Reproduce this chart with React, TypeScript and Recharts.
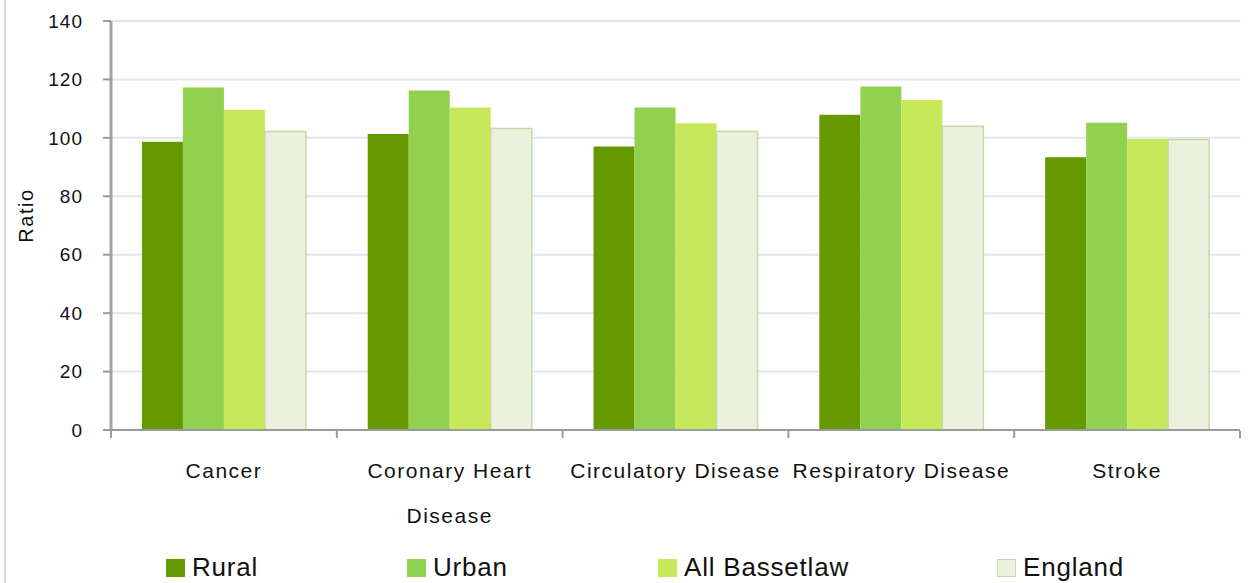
import React from "react";
import { BarChart, Bar, XAxis, YAxis, CartesianGrid, Legend } from "recharts";

const categories = ["Cancer", "Coronary Heart Disease", "Circulatory Disease", "Respiratory Disease", "Stroke"];
const tickLines = [["Cancer"], ["Coronary Heart", "Disease"], ["Circulatory Disease"], ["Respiratory Disease"], ["Stroke"]];
const rural = [98.7, 101.3, 97.0, 107.9, 93.4];
const urban = [117.2, 116.2, 110.4, 117.6, 105.2];
const allBassetlaw = [109.6, 110.4, 105.0, 113.0, 99.6];
const england = [102.2, 103.2, 102.2, 104.0, 99.4];
const yTicks = [0, 20, 40, 60, 80, 100, 120, 140];

const series = [
  { key: "rural", name: "Rural", fill: "#669900", stroke: "#669900" },
  { key: "urban", name: "Urban", fill: "#92D050", stroke: "#92D050" },
  { key: "all", name: "All Bassetlaw", fill: "#C6E85A", stroke: "#C6E85A" },
  { key: "england", name: "England", fill: "#EBF1DE", stroke: "#C6DAA6" },
];

const data = categories.map((c, i) => ({
  name: c,
  rural: rural[i],
  urban: urban[i],
  all: allBassetlaw[i],
  england: england[i],
}));

const font = "'Liberation Sans', Arial, sans-serif";
const legendLefts = [166, 407, 658, 997];

function CategoryTick(props: any) {
  const { x, y, payload, index } = props;
  const half = payload && payload.offset ? payload.offset : 1129 / 5 / 2;
  const top = y - 7;
  const lines = tickLines[index] || [payload.value];
  return (
    <g>
      <line x1={x - half} x2={x - half} y1={top} y2={top + 7} stroke="#9a9a9a" strokeWidth={2} />
      {index === categories.length - 1 && (
        <line x1={x + half} x2={x + half} y1={top} y2={top + 7} stroke="#9a9a9a" strokeWidth={2} />
      )}
      {lines.map((l: string, i: number) => (
        <text
          key={i}
          x={x}
          y={top + 47 + i * 45}
          textAnchor="middle"
          fontSize={21}
          letterSpacing={1.5}
          fontFamily={font}
          fill="#111"
        >
          {l}
        </text>
      ))}
    </g>
  );
}

function LegendBox() {
  return (
    <div style={{ position: "relative", height: 73, width: 1240 }}>
      {series.map((s, i) => (
        <div
          key={s.key}
          style={{
            position: "absolute",
            left: legendLefts[i],
            top: 42,
            display: "flex",
            alignItems: "center",
            fontFamily: font,
            fontSize: 26,
            letterSpacing: 0.8,
            color: "#111",
            whiteSpace: "nowrap",
          }}
        >
          <span
            style={{
              display: "inline-block",
              width: s.key === "england" ? 17 : 19,
              height: s.key === "england" ? 16 : 18,
              background: s.fill,
              border: s.key === "england" ? "1.5px solid " + s.stroke : "none",
              marginRight: 7,
            }}
          />
          {s.name}
        </div>
      ))}
    </div>
  );
}

export default function App() {
  return (
    <div style={{ position: "fixed", left: 0, top: 0, width: 1253, height: 583, background: "#fff" }}>
      <div style={{ position: "absolute", left: 4, top: 0, width: 2, height: 583, background: "#d9d9d9" }} />
      <BarChart
        width={1253}
        height={583}
        data={data}
        margin={{ top: 21, right: 13, left: 0, bottom: 0 }}
        barCategoryGap="13.7%"
        barGap={0}
      >
        <CartesianGrid vertical={false} stroke="#DDE6F2" strokeWidth={2} />
        <XAxis
          dataKey="name"
          height={80}
          tickLine={false}
          interval={0}
          axisLine={{ stroke: "#9a9a9a", strokeWidth: 2 }}
          tick={<CategoryTick />}
        />
        <YAxis
          width={111}
          domain={[0, 140]}
          ticks={yTicks}
          tickSize={8}
          tickMargin={20}
          axisLine={{ stroke: "#a3a3a3", strokeWidth: 3 }}
          tickLine={{ stroke: "#9a9a9a", strokeWidth: 2 }}
          tick={{ fontSize: 19, letterSpacing: 1, fontFamily: font, fill: "#111" }}
          label={{
            content: (p: any) => {
              const vb = p.viewBox || { y: 21, height: 409 };
              const cy = vb.y + vb.height / 2 - 10;
              return (
                <text
                  x={26}
                  y={cy}
                  transform={`rotate(-90, 26, ${cy})`}
                  textAnchor="middle"
                  dominantBaseline="central"
                  fontSize={20}
                  letterSpacing={1.6}
                  fontFamily={font}
                  fill="#111"
                >
                  Ratio
                </text>
              );
            },
          }}
        />
        <Legend verticalAlign="bottom" height={73} content={() => <LegendBox />} wrapperStyle={{ left: 0, width: 1240 }} />
        {series.map((s) => (
          <Bar
            key={s.key}
            dataKey={s.key}
            name={s.name}
            fill={s.fill}
            stroke={s.key === "england" ? s.stroke : "none"}
            strokeWidth={s.key === "england" ? 1.5 : 0}
            isAnimationActive={false}
          />
        ))}
      </BarChart>
    </div>
  );
}
